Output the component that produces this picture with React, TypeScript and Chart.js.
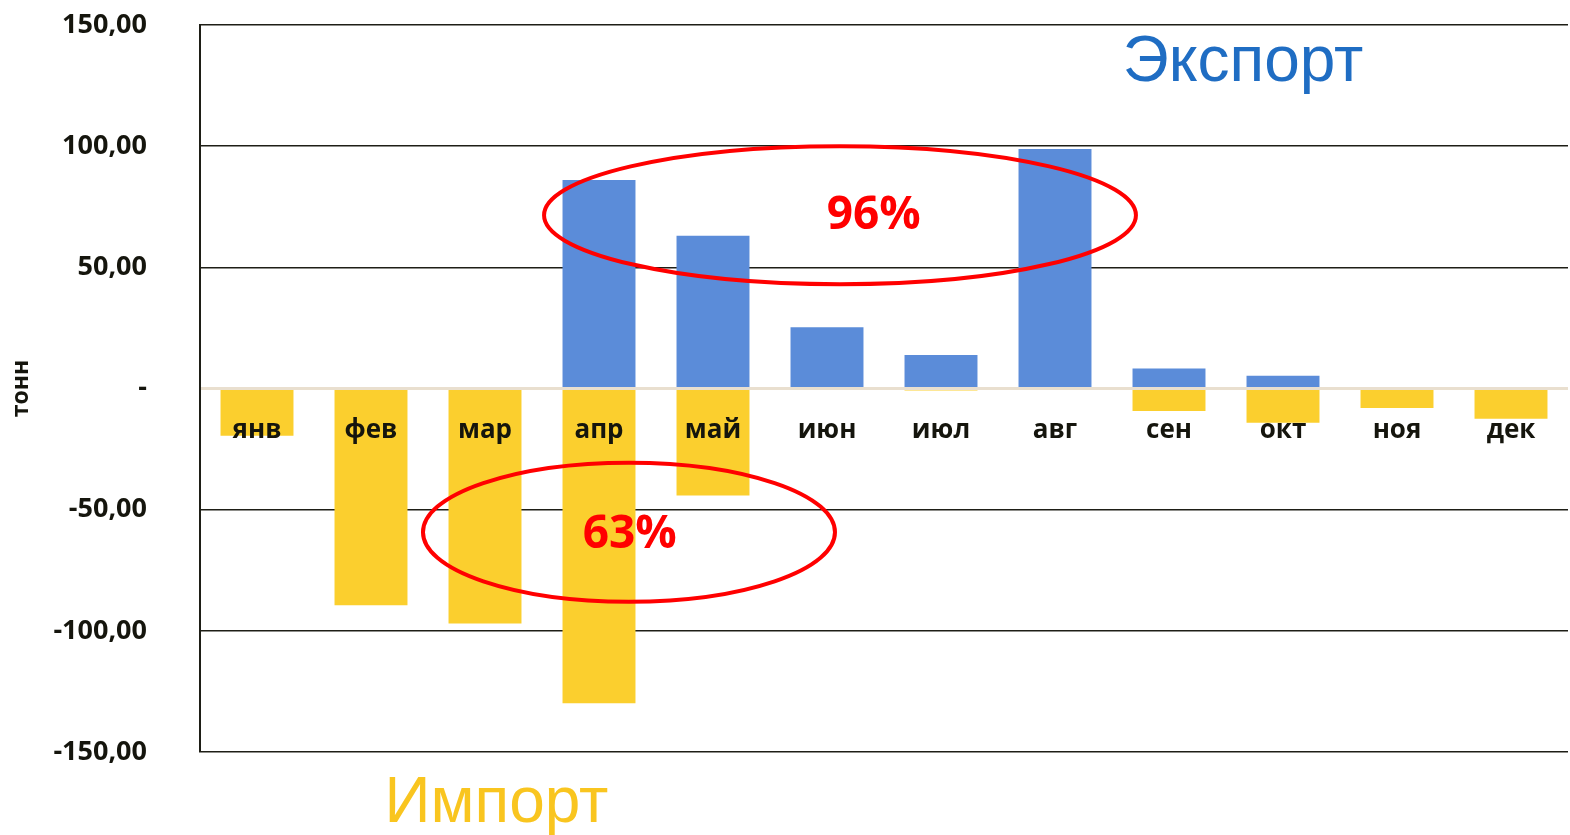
import React, { useEffect, useRef } from "react";
import { Chart, registerables } from "chart.js";

Chart.register(...registerables);

const categories = ["янв", "фев", "мар", "апр", "май", "июн", "июл", "авг", "сен", "окт", "ноя", "дек"];
const exportValues = [0, 0, 0, 86, 63, 25.3, 13.8, 98.8, 8.3, 5.3, 0, 0];
const importValues = [-19.5, -89.4, -97, -129.9, -44.2, 0, -0.8, -0.3, -9.3, -14.1, -8, -12.5];
const yTicks = [-150, -100, -50, 0, 50, 100, 150];

// annotations in data units: x in category index, y in value
const ellipses = [
  { cx: 5.114, cy: 71.5, rx: 2.596, ry: 28.5 },
  { cx: 3.263, cy: -59.3, rx: 1.807, ry: 28.7 },
];
const percentLabels = [
  { text: "96%", x: 5.41, y: 71.1 },
  { text: "63%", x: 3.27, y: -60.5 },
];
const seriesTitles = [
  { text: "Экспорт", x: 8.65, y: 134, color: "#1f6dc3" },
  { text: "Импорт", x: 2.1, y: -171.5, color: "#f9c51f" },
];

const BLUE = "#5b8cd9";
const YELLOW = "#fbcf2e";
const DARK = "#1e1e16";

const overlayPlugin = {
  id: "overlay",
  afterDatasetsDraw(chart: any) {
    const { ctx, chartArea } = chart;
    const xs = chart.scales.x;
    const ys = chart.scales.y;
    const x0 = xs.getPixelForValue(0);
    const step = xs.getPixelForValue(1) - x0;
    const xAt = (f: number) => x0 + f * step;
    const unit = Math.abs(ys.getPixelForValue(0) - ys.getPixelForValue(1));
    const zeroY = ys.getPixelForValue(0);

    ctx.save();
    // zero line
    ctx.strokeStyle = "#e9dfcf";
    ctx.lineWidth = 3;
    ctx.beginPath();
    ctx.moveTo(chartArea.left + 1, zeroY);
    ctx.lineTo(chartArea.right, zeroY);
    ctx.stroke();

    // category labels
    ctx.fillStyle = "#15150d";
    ctx.font = "bold 26px 'Open Sans'";
    ctx.textAlign = "center";
    ctx.textBaseline = "middle";
    categories.forEach((c, i) => {
      ctx.fillText(c, xs.getPixelForValue(i), zeroY + 42);
    });

    // ellipses
    ctx.strokeStyle = "#ff0000";
    ctx.lineWidth = 4;
    ellipses.forEach((e) => {
      ctx.beginPath();
      ctx.ellipse(xAt(e.cx), ys.getPixelForValue(e.cy), e.rx * step, e.ry * unit, 0, 0, Math.PI * 2);
      ctx.stroke();
    });

    ctx.fillStyle = "#ff0000";
    ctx.font = "bold 46px 'Open Sans'";
    percentLabels.forEach((p) => {
      ctx.fillText(p.text, xAt(p.x), ys.getPixelForValue(p.y));
    });

    ctx.font = "64px 'Liberation Sans'";
    seriesTitles.forEach((s) => {
      ctx.fillStyle = s.color;
      ctx.fillText(s.text, xAt(s.x), ys.getPixelForValue(s.y));
    });
    ctx.restore();
  },
};

export default function App() {
  const ref = useRef<HTMLCanvasElement | null>(null);
  useEffect(() => {
    if (!ref.current) return;
    const chart = new Chart(ref.current, {
      type: "bar",
      data: {
        labels: categories,
        datasets: [
          {
            label: "Экспорт",
            data: exportValues,
            backgroundColor: BLUE,
            barPercentage: 0.64,
            categoryPercentage: 1,
          },
          {
            label: "Импорт",
            data: importValues,
            backgroundColor: YELLOW,
            barPercentage: 0.64,
            categoryPercentage: 1,
          },
        ],
      },
      options: {
        responsive: false,
        animation: false,
        layout: { padding: { top: 25, bottom: 83, left: 0, right: 2 } },
        plugins: { legend: { display: false }, tooltip: { enabled: false } },
        scales: {
          x: { display: false, stacked: true },
          y: {
            stacked: true,
            min: -150,
            max: 150,
            afterFit: (scale: any) => {
              scale.width = 200;
              scale.paddingTop = 0;
              scale.paddingBottom = 0;
            },
            afterBuildTicks: (scale: any) => {
              scale.ticks = yTicks.map((v) => ({ value: v }));
            },
            border: { display: true, color: DARK, width: 2 },
            grid: {
              drawTicks: false,
              color: (c: any) => (c.tick && c.tick.value === 0 ? "rgba(0,0,0,0)" : DARK),
              lineWidth: 1.6,
            },
            ticks: {
              padding: 53,
              color: "#15150d",
              font: { family: "'Open Sans'", weight: "bold", size: 27 },
              callback: (v: any) => (Number(v) === 0 ? "-" : Number(v).toFixed(2).replace(".", ",")),
            },
            title: {
              display: true,
              text: "тонн",
              color: "#15150d",
              font: { family: "'Open Sans'", weight: "bold", size: 23 },
              padding: { top: 8, bottom: 0 },
            },
          },
        },
      },
      plugins: [overlayPlugin],
    });
    return () => chart.destroy();
  }, []);

  return (
    <div style={{ position: "absolute", left: 0, top: 0, width: 1570, height: 835, background: "#fff" }}>
      <canvas ref={ref} width={1570} height={835} style={{ display: "block" }} />
    </div>
  );
}
